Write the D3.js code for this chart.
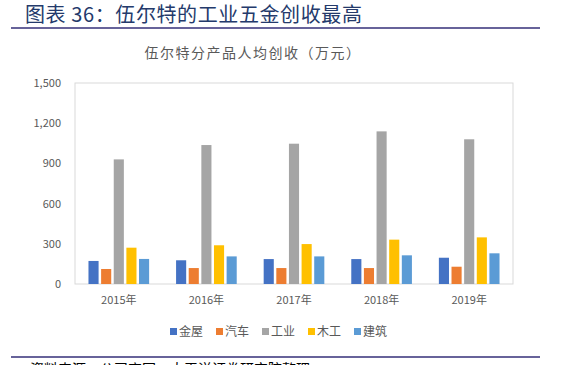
<!DOCTYPE html>
<html>
<head>
<meta charset="utf-8">
<script src="https://cdn.jsdelivr.net/npm/d3@7"></script>
<style>
  body { margin: 0; background: #fff; }
  text { font-family: "Noto Sans CJK SC", "Noto Sans", sans-serif; }
</style>
</head>
<body>
<div id="chart"></div>
<script>
var svgWidth = 563;
var svgHeight = 365;

// data
var years = ["2015年", "2016年", "2017年", "2018年", "2019年"];
var seriesNames = ["金屋", "汽车", "工业", "木工", "建筑"];
var metal = [172, 177, 186, 186, 196];
var auto = [112, 119, 119, 119, 129];
var industry = [930, 1037, 1047, 1139, 1080];
var wood = [271, 289, 298, 331, 348];
var build = [187, 206, 206, 214, 229];
var yTicks = [0, 300, 600, 900, 1200, 1500];
var colors = ["#4472C4", "#ED7D31", "#A5A5A5", "#FFC000", "#5B9BD5"];

var series = [metal, auto, industry, wood, build];

var margin = { top: 83, right: 50, bottom: 81, left: 75 };
var width = svgWidth - margin.left - margin.right;
var height = svgHeight - margin.top - margin.bottom;

var svg = d3.select("#chart")
  .append("svg")
  .attr("width", svgWidth)
  .attr("height", svgHeight);

// heading
svg.append("text")
  .attr("x", 25)
  .attr("y", 22)
  .attr("fill", "#243A6B")
  .attr("font-size", 20)
  .attr("letter-spacing", 0.6)
  .text("图表 36：伍尔特的工业五金创收最高");

svg.append("line")
  .attr("x1", 11).attr("x2", 540)
  .attr("y1", 28).attr("y2", 28)
  .attr("stroke", "#67639A")
  .attr("stroke-width", 2);

svg.append("text")
  .attr("x", 253)
  .attr("y", 58)
  .attr("text-anchor", "middle")
  .attr("fill", "#595959")
  .attr("font-size", 14)
  .attr("letter-spacing", 1.5)
  .text("伍尔特分产品人均创收（万元）");

var chartGroup = svg.append("g")
  .attr("transform", `translate(${margin.left}, ${margin.top})`);

var x0 = d3.scaleBand()
  .domain(years)
  .range([0, width])
  .paddingInner(0.25)
  .paddingOuter(0.125);

var x1 = d3.scaleBand()
  .domain(seriesNames)
  .range([0, x0.bandwidth()])
  .padding(0.2);

var yLinearScale = d3.scaleLinear()
  .domain([0, 1500])
  .range([height, 0]);

// plot frame
chartGroup.append("rect")
  .attr("x", 0).attr("y", 0)
  .attr("width", width).attr("height", height)
  .attr("fill", "none")
  .attr("stroke", "#D9D9D9")
  .attr("stroke-width", 1);

var leftAxis = d3.axisLeft(yLinearScale)
  .tickValues(yTicks)
  .tickFormat(d3.format(","))
  .tickSize(0)
  .tickPadding(14);

chartGroup.append("g")
  .call(leftAxis)
  .call(g => g.select(".domain").remove())
  .selectAll("text")
  .attr("fill", "#595959")
  .attr("font-size", 11);

var bottomAxis = d3.axisBottom(x0).tickSize(0).tickPadding(12);

chartGroup.append("g")
  .attr("transform", `translate(0, ${height})`)
  .call(bottomAxis)
  .call(g => g.select(".domain").remove())
  .selectAll("text")
  .attr("fill", "#595959")
  .attr("font-size", 11);

series.forEach(function(vals, si) {
  chartGroup.selectAll(".bar" + si)
    .data(vals)
    .enter()
    .append("rect")
    .attr("x", (d, i) => x0(years[i]) + x1(seriesNames[si]))
    .attr("y", d => yLinearScale(d))
    .attr("width", x1.bandwidth())
    .attr("height", d => height - yLinearScale(d))
    .attr("fill", colors[si]);
});

// legend
var legend = svg.append("g")
  .attr("transform", "translate(170, 332)");

var legendX = [0, 46, 92, 138, 184];
seriesNames.forEach(function(name, i) {
  var item = legend.append("g").attr("transform", `translate(${legendX[i]}, 0)`);
  item.append("rect")
    .attr("x", 0).attr("y", -4)
    .attr("width", 7).attr("height", 7)
    .attr("fill", colors[i]);
  item.append("text")
    .attr("x", 9).attr("y", 4)
    .attr("fill", "#595959")
    .attr("font-size", 12)
    .text(name);
});

svg.append("line")
  .attr("x1", 11).attr("x2", 540)
  .attr("y1", 357).attr("y2", 357)
  .attr("stroke", "#67639A")
  .attr("stroke-width", 2);

// source note, cut off by the bottom edge as in the reference
svg.append("text")
  .attr("x", 30)
  .attr("y", 374)
  .attr("fill", "#000")
  .attr("font-size", 14)
  .text("资料来源：公司官网，太平洋证券研究院整理");
</script>
</body>
</html>
